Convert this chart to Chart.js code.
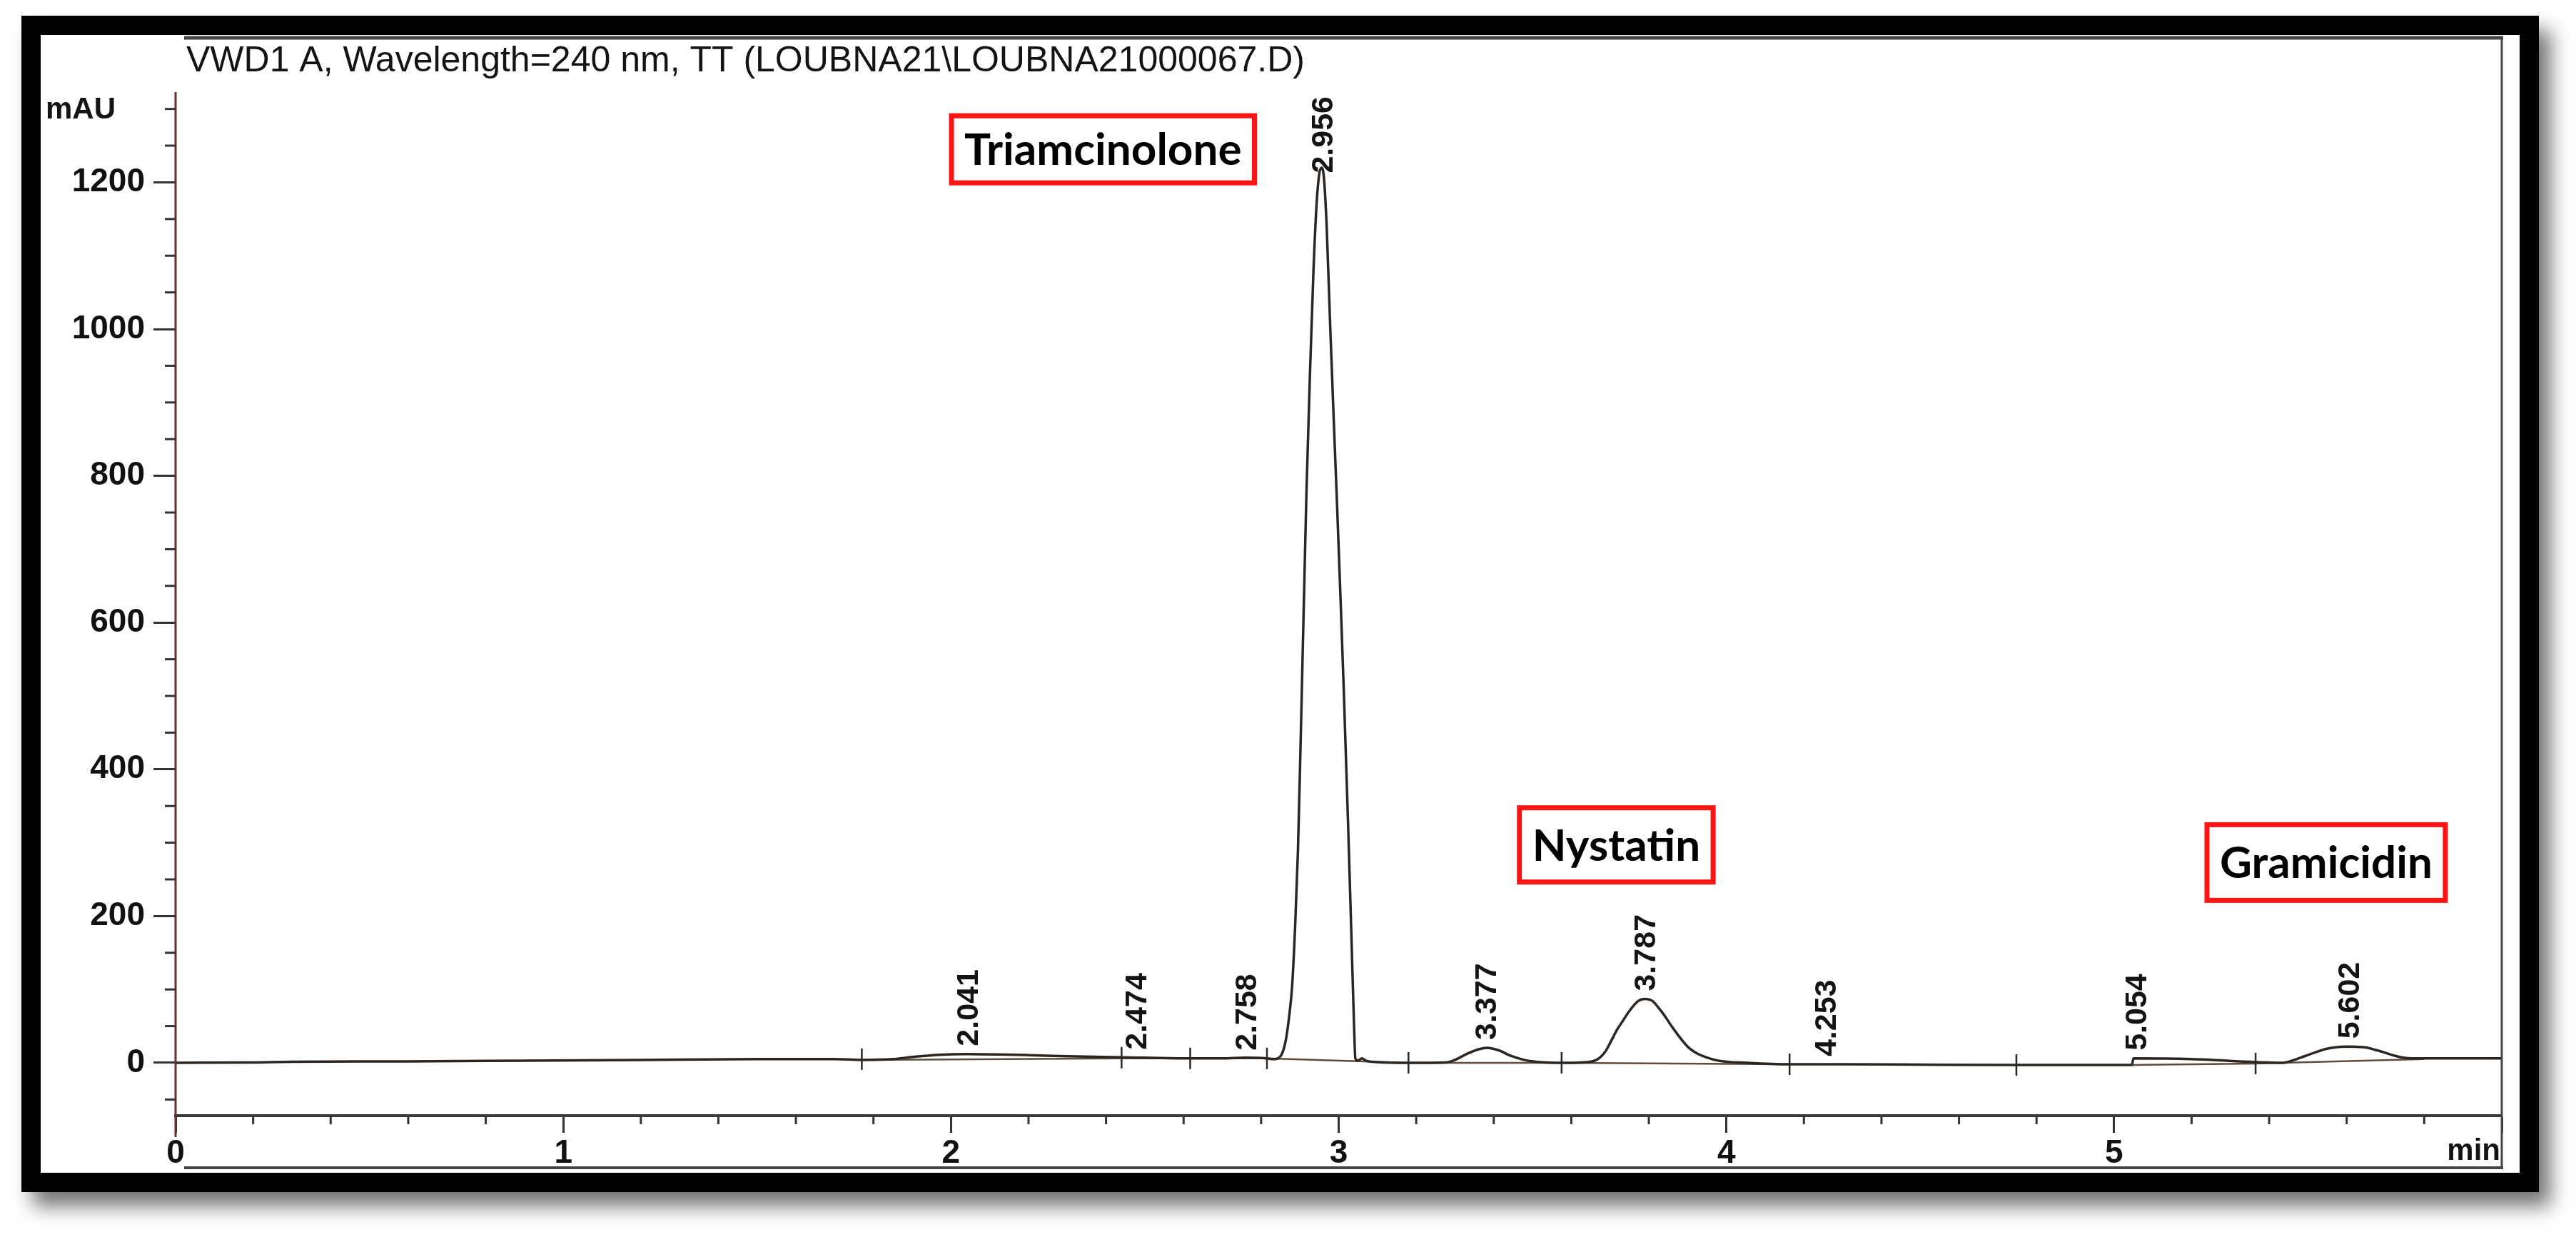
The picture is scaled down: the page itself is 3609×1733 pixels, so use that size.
<!DOCTYPE html>
<html>
<head>
<meta charset="utf-8">
<script src="https://cdn.jsdelivr.net/npm/chart.js@4.4.1/dist/chart.umd.min.js"></script>
<style>
  html, body { margin: 0; padding: 0; background: #fff; }
  body { width: 3609px; height: 1733px; position: relative; overflow: hidden; }
  #frame {
    position: absolute; left: 30px; top: 22px;
    width: 3473px; height: 1594px;
    border: 27px solid #000; background: #fff;
    box-shadow: 16px 20px 26px rgba(0, 0, 0, 0.55);
  }
  #chart { position: absolute; left: 0; top: 0; }
</style>
</head>
<body>
<div id="frame"></div>
<canvas id="chart" width="3609" height="1733"></canvas>
<script>
const title = 'VWD1 A, Wavelength=240 nm, TT (LOUBNA21\\LOUBNA21000067.D)';
const yUnit = 'mAU';
const xUnit = 'min';
const yTickValues = [0, 200, 400, 600, 800, 1000, 1200];
const xTickValues = [0, 1, 2, 3, 4, 5, 6];

// detector trace (min, mAU)
const signalTime = [
    0, 0.2, 0.3, 0.6, 0.9, 1.2, 1.5, 1.7, 1.77,
    1.85, 1.9, 1.97, 2.04, 2.12, 2.2, 2.3, 2.44, 2.5, 2.617, 2.7, 2.758, 2.815, 2.83,
    2.843, 2.855, 2.864, 2.872, 2.88, 2.888, 2.895, 2.902, 2.909, 2.917, 2.926, 2.935, 2.943, 2.95, 2.956,
    2.962, 2.969, 2.978, 2.987, 2.996, 3.005, 3.013, 3.024, 3.033, 3.04, 3.043, 3.05, 3.06, 3.07, 3.1, 3.18,
    3.276, 3.3, 3.33, 3.361, 3.383, 3.413, 3.444, 3.482, 3.52, 3.575,
    3.626, 3.665, 3.688, 3.703, 3.718, 3.734, 3.749, 3.772, 3.79, 3.81, 3.825, 3.841, 3.856, 3.871,
    3.887, 3.902, 3.92, 3.94, 3.978, 4.055, 4.163,
    4.3, 4.5, 4.748, 4.9, 5.046, 5.05, 5.2, 5.365, 5.435,
    5.465, 5.491, 5.52, 5.547, 5.575, 5.602, 5.625, 5.65, 5.675, 5.698, 5.722, 5.746, 5.77, 5.8, 5.9, 6.0
];
const signalMAU = [
    0, 0.5, 1.5, 2, 3, 4, 5, 5, 4,
    5, 8, 11, 12, 11.5, 10.5, 9, 7.5, 7, 6, 6, 7, 6, 5,
    6, 14, 32, 62, 105, 190, 290, 440, 600, 780, 940, 1080, 1170, 1212, 1220,
    1206, 1140, 1006, 880, 758, 630, 510, 330, 170, 45, 6, 3, 6, 3, 1, 0,
    0.5, 4, 12, 18.5, 20.5, 17, 9.5, 3.5, 1, 0,
    0.5, 4, 15.5, 30, 45, 58, 70, 84, 87, 84, 75, 64, 52, 41,
    30, 21, 14, 9, 3, 0, -2,
    -2, -2.5, -3, -3, -3, 6, 5, 1, 0,
    4, 9, 14.5, 19, 21.5, 22, 21.8, 21, 17.5, 14, 10, 7, 6, 6, 6, 6
];

// integration baselines drawn under the peaks (null = gap)
const baseTime = [1.77, 2.44, 2.617, 2.815, 3.18, 3.575, 4.163, null, 5.046, 5.365, 5.8];
const baseMAU = [4, 6, 6, 6, 0, 0, -2, null, -3, -1, 5];

// integration event marks
const eventTime = [1.77, 2.44, 2.617, 2.815, 3.18, 3.575, 4.163, 4.748, 5.365];
const eventMAU = [5, 7, 6, 6, 0, 0, -2, -3, -1];

// labelled retention times and apex heights
const peakTime = [2.041, 2.474, 2.758, 2.956, 3.377, 3.787, 4.253, 5.054, 5.602];
const peakMAU = [12, 7, 6, 1220, 20.5, 87, -2, 6, 22];

const compoundNames = ['Triamcinolone', 'Nystatin', 'Gramicidin'];

const FONT = '"Liberation Sans", Arial, sans-serif';

function line(ctx, x1, y1, x2, y2) {
    ctx.beginPath();
    ctx.moveTo(x1, y1);
    ctx.lineTo(x2, y2);
    ctx.stroke();
}

const deco = {
    id: 'deco',
    afterDraw(chart, args, opts) {
        const { ctx, chartArea: a } = chart;
        const x = chart.scales.x;
        const y = chart.scales.y;
        ctx.save();

        // frame of the printout
        ctx.strokeStyle = '#444';
        ctx.lineWidth = 5;
        line(ctx, 258, 53, a.right + 2, 53);
        ctx.lineWidth = 3;
        line(ctx, a.right, 53, a.right, 1636);
        ctx.lineWidth = 4;
        line(ctx, 258, 1636, a.right + 2, 1636);

        // y axis line, runs a bit past the time axis
        ctx.strokeStyle = '#6b2f2f';
        ctx.lineWidth = 3;
        line(ctx, a.left, a.top, a.left, a.bottom + 30);

        // minor ticks
        ctx.strokeStyle = '#333';
        ctx.lineWidth = 3;
        for (let v = -50; v <= 1300; v += 50) {
            if (yTickValues.includes(v)) continue;
            const py = y.getPixelForValue(v);
            line(ctx, a.left - 15, py, a.left, py);
        }
        for (let v = 0.2; v < 6; v += 0.2) {
            if (Math.abs(v - Math.round(v)) < 0.01) continue;
            const px = x.getPixelForValue(v);
            line(ctx, px, a.bottom, px, a.bottom + 12);
        }

        // integration event marks
        ctx.strokeStyle = '#2b2622';
        ctx.lineWidth = 2.5;
        eventTime.forEach(function (t, i) {
            const px = x.getPixelForValue(t);
            const py = y.getPixelForValue(eventMAU[i]);
            line(ctx, px, py - 15, px, py + 15);
        });

        // title and unit labels
        ctx.fillStyle = '#141414';
        ctx.textBaseline = 'middle';
        ctx.textAlign = 'left';
        ctx.font = '50px ' + FONT;
        ctx.fillText(title, 261, 86);
        ctx.font = 'bold 42px ' + FONT;
        ctx.fillText(yUnit, 64, 154);
        ctx.textAlign = 'right';
        ctx.fillText(xUnit, a.right - 2, 1613);

        // retention time labels, rotated; kept inside the plot at the top
        ctx.font = 'bold 43px ' + FONT;
        ctx.textAlign = 'left';
        ctx.textBaseline = 'middle';
        peakTime.forEach(function (t, i) {
            const label = t.toFixed(3);
            const len = ctx.measureText(label).width;
            const px = x.getPixelForValue(t) + 4;
            let py = y.getPixelForValue(peakMAU[i]) - 11;
            if (py - len < a.top + 6) py = a.top + 6 + len;
            ctx.save();
            ctx.translate(px, py);
            ctx.rotate(-Math.PI / 2);
            ctx.fillText(label, 0, 0);
            ctx.restore();
        });

        // compound name boxes
        ctx.font = 'bold 62px Lato, "Open Sans", sans-serif';
        ctx.textAlign = 'center';
        opts.boxes.forEach(function (b, i) {
            const cx = x.getPixelForValue(b.time);
            const cy = y.getPixelForValue(b.mAU);
            const w = ctx.measureText(compoundNames[i]).width + 36;
            const h = b.h;
            ctx.fillStyle = '#fff';
            ctx.fillRect(cx - w / 2, cy - h / 2, w, h);
            ctx.strokeStyle = '#ff1414';
            ctx.lineWidth = 7;
            ctx.strokeRect(cx - w / 2, cy - h / 2, w, h);
            ctx.fillStyle = '#000';
            ctx.fillText(compoundNames[i], cx, cy + 2);
        });

        ctx.restore();
    },
};

new Chart(document.getElementById('chart'), {
    type: 'line',
    data: {
        datasets: [
            {
                data: signalTime.map(function (t, i) {
                    return { x: t, y: signalMAU[i] };
                }),
                borderColor: '#2b2622',
                borderWidth: 3.5,
                pointRadius: 0,
                cubicInterpolationMode: 'monotone',
                fill: false,
            },
            {
                data: baseTime.map(function (t, i) {
                    return { x: t, y: baseMAU[i] };
                }),
                borderColor: '#5e4c3e',
                borderWidth: 2.5,
                pointRadius: 0,
                spanGaps: false,
                tension: 0,
                fill: false,
            },
        ],
    },
    options: {
        responsive: false,
        animation: false,
        devicePixelRatio: 1,
        layout: { padding: { top: 129, right: 104, left: 0, bottom: 0 } },
        plugins: {
            legend: { display: false },
            tooltip: { enabled: false },
            deco: {
                boxes: [
                    { time: 2.392, mAU: 1245, h: 94 },
                    { time: 3.716, mAU: 297, h: 104 },
                    { time: 5.547, mAU: 273, h: 106 },
                ],
            },
        },
        scales: {
            x: {
                type: 'linear',
                min: 0,
                max: 6,
                afterBuildTicks: function (s) {
                    s.ticks = xTickValues.map(function (v) {
                        return { value: v };
                    });
                },
                afterFit: function (s) {
                    s.height = 170;
                },
                grid: { drawOnChartArea: false, drawTicks: true, tickLength: 24, tickWidth: 3, tickColor: '#333' },
                border: { display: true, color: '#3a3a3a', width: 4 },
                ticks: {
                    font: { family: FONT, size: 46, weight: 'bold' },
                    color: '#111',
                    padding: 2,
                    maxRotation: 0,
                    autoSkip: false,
                    callback: function (v) {
                        return v === 6 ? '' : String(v);
                    },
                },
            },
            y: {
                min: -72,
                max: 1323,
                afterBuildTicks: function (s) {
                    s.ticks = yTickValues.map(function (v) {
                        return { value: v };
                    });
                },
                afterFit: function (s) {
                    s.width = 246;
                },
                grid: { drawOnChartArea: false, drawTicks: true, tickLength: 31, tickWidth: 3, tickColor: '#333' },
                border: { display: false },
                ticks: {
                    font: { family: FONT, size: 46, weight: 'bold' },
                    color: '#111',
                    padding: 12,
                    callback: function (v) {
                        return String(v);
                    },
                },
            },
        },
    },
    plugins: [deco],
});
</script>
</body>
</html>
